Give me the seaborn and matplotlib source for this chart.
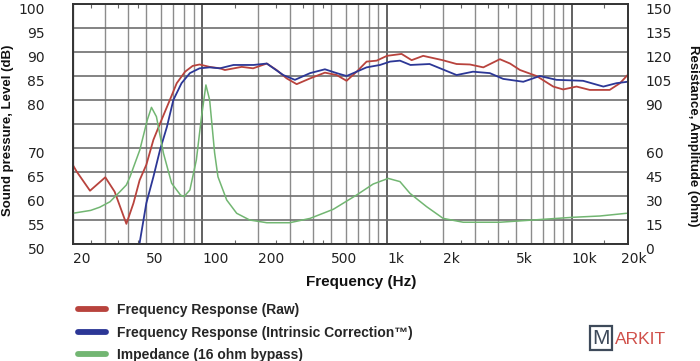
import matplotlib
matplotlib.use("Agg")
import matplotlib.pyplot as plt
import matplotlib.transforms as mtransforms
from matplotlib.lines import Line2D
import numpy as np
import pandas as pd
import seaborn as sns

# frequency response (raw), dB
raw_freq = [20, 21, 24.8, 30, 33.7, 39, 42.6, 46, 50, 54.6, 59.3, 67, 73, 81, 89, 97,
            110, 125, 133, 164, 189, 224, 253, 287, 325, 384, 462, 535, 605, 686, 776,
            880, 1000, 1200, 1360, 1570, 2000, 2380, 2810, 3320, 4080, 4630, 5240, 6440,
            7930, 8970, 10600, 12500, 16000, 18200, 20000]
raw_db = [66.5, 65.1, 61.1, 63.9, 60.9, 54.2, 58.5, 63.3, 66.5, 71.7, 75.1, 80, 83.5, 85.9,
          87.1, 87.4, 86.9, 86.6, 86.25, 86.9, 86.6, 87.6, 86.25, 84.5, 83.3, 84.5, 85.7,
          85.2, 84, 85.9, 88, 88.2, 89.2, 89.6, 88.3, 89.2, 88.3, 87.5, 87.4, 86.8, 88.5,
          87.6, 86.25, 85, 82.8, 82.2, 82.8, 82.1, 82.1, 83.5, 85.2]

# frequency response (intrinsic correction), dB
cor_freq = [45.9, 50, 54.6, 59.3, 64.6, 70, 77.5, 86, 97, 110, 125, 148, 190, 224, 275, 318,
            384, 462, 535, 605, 686, 776, 917, 1040, 1176, 1340, 1700, 2380, 2920, 3600,
            4250, 5460, 6710, 8260, 11500, 14800, 17400, 20000]
cor_db = [50, 58.5, 64, 69.6, 74.4, 80, 83.5, 85.6, 86.6, 86.8, 86.6, 87.3, 87.3, 87.6, 85.2,
          84.2, 85.6, 86.4, 85.6, 85, 85.9, 86.8, 87.3, 88, 88.2, 87.3, 87.5, 85.2, 85.9,
          85.6, 84.4, 83.8, 85, 84.2, 84, 82.8, 83.5, 83.8]

# impedance, ohm
imp_freq = [20, 25, 28, 31.8, 36, 39, 40.8, 46.1, 50.6, 53.3, 56.7, 61.9, 68.5, 76.5, 79.9,
            86, 93.2, 99.4, 105, 110, 117, 122, 136, 154, 181, 224, 298, 384, 513, 685,
            843, 1016, 1176, 1331, 1476, 1640, 2014, 2584, 4080, 6180, 10160, 14170, 19760]
imp_ohm = [19.2, 21, 23, 26.4, 32.7, 36.9, 42, 58.75, 77.5, 85.4, 79.6, 56.7, 38, 30.6, 29.6,
           33.75, 52.5, 79.6, 99.4, 90, 57, 42, 27.5, 19.2, 15, 13.3, 13.3, 16, 21.7, 30.6,
           37.5, 41, 39, 31.7, 27.5, 23.3, 16, 13.6, 13.6, 15, 16.7, 17.5, 19.2]

grid_freqs = [20, 30, 40, 50, 60, 70, 80, 90, 100, 200, 300, 400, 500, 600, 700, 800, 900,
              1000, 2000, 3000, 4000, 5000, 6000, 7000, 8000, 9000, 10000, 20000]
freq_labels = {20: "20", 50: "50", 100: "100", 200: "200", 500: "500", 1000: "1k",
               2000: "2k", 5000: "5k", 10000: "10k", 20000: "20k"}
small_ticks = [25, 35, 45, 150, 250, 350, 450, 1500, 2500, 3500, 4500, 15000]
spl_ticks = [50, 55, 60, 65, 70, 75, 80, 85, 90, 95, 100]
ohm_ticks = [0, 15, 30, 45, 60, 75, 90, 105, 120, 135, 150]

RED = "#b8433d"
BLUE = "#2c3796"
GREEN = "#72b672"

sns.set_theme(style="white")
plt.rcParams["font.family"] = ["DejaVu Sans"]

fig = plt.figure(figsize=(7.0, 3.61), dpi=100)
ax = fig.add_axes([0.1039, 0.3241, 0.7926, 0.6648])
ax2 = ax.twinx()

sns.lineplot(x=raw_freq, y=raw_db, ax=ax, color=RED, lw=1.3, errorbar=None)
sns.lineplot(x=cor_freq, y=cor_db, ax=ax, color=BLUE, lw=1.3, errorbar=None)
sns.lineplot(x=imp_freq, y=imp_ohm, ax=ax2, color=GREEN, lw=1.1, errorbar=None)

ax.set_xscale("log")
ax.set_xlim(20, 20000)
ax.set_ylim(50, 100)
ax2.set_ylim(0, 150)

# grid via ticks
ax.set_xticks(grid_freqs)
ax.set_xticklabels([freq_labels.get(f, "") for f in grid_freqs])
ax.set_xticks(small_ticks, minor=True)
ax.set_xticklabels([], minor=True)
ax.set_yticks(spl_ticks)
ax.set_yticklabels(["" if v == 75 else str(v) for v in spl_ticks])
ax2.set_yticks(ohm_ticks)
ax2.set_yticklabels(["" if v == 75 else str(v) for v in ohm_ticks])

ax.grid(True, which="major", axis="both", color="#8c8c8c", lw=1.0)
for f, gl in zip(grid_freqs, ax.get_xgridlines()):
    if f in (100, 1000, 10000):
        gl.set_color("#555555")
        gl.set_linewidth(1.3)
for gl in ax.get_ygridlines():
    gl.set_color("#6e6e6e")
    gl.set_linewidth(1.2)
ax2.grid(False)

ax.tick_params(axis="x", which="major", length=0, pad=6, labelsize=10, colors="#222222")
ax.tick_params(axis="x", which="minor", direction="in", length=3, width=0.8,
               color="#666666", top=True, bottom=True)
ax.tick_params(axis="y", length=0, pad=20, labelsize=10, colors="#222222")
ax2.tick_params(axis="y", length=0, pad=13, labelsize=10, colors="#222222")

dpi_tr = fig.dpi_scale_trans
for lab in ax.get_xticklabels():
    lab.set_horizontalalignment("left")
    if lab.get_text() == "20k":
        lab.set_transform(lab.get_transform() + mtransforms.ScaledTranslation(-0.07, 0, dpi_tr))
for lab in ax.get_yticklabels() + ax2.get_yticklabels():
    lab.set_transform(lab.get_transform() + mtransforms.ScaledTranslation(0, -0.045, dpi_tr))

for a in (ax, ax2):
    for sp in a.spines.values():
        sp.set_color("#333333")
        sp.set_linewidth(1.2)

lab_font = dict(family="Liberation Sans", weight="bold", size=9.5, color="#111111")
ax.set_ylabel("Sound pressure, Level (dB)", **lab_font)
ax.yaxis.label.set(ha="center", va="center", rotation_mode="default")
ax.yaxis.set_label_coords(-0.117, 0.475)
ax2.set_ylabel("Resistance, Amplitude (ohm)", rotation=-90, **lab_font)
ax2.yaxis.label.set(ha="center", va="center", rotation_mode="default")
ax2.yaxis.set_label_coords(1.118, 0.45)
ax.set_xlabel("Frequency (Hz)", family="Liberation Sans", weight="bold", size=11,
              color="#111111")
ax.xaxis.label.set(va="center")
ax.xaxis.set_label_coords(0.52, -0.157)

handles = [Line2D([], [], color=RED, lw=4.2),
           Line2D([], [], color=BLUE, lw=4.2),
           Line2D([], [], color=GREEN, lw=4.2)]
labels = ["Frequency Response (Raw)",
          "Frequency Response (Intrinsic Correction\u2122)",
          "Impedance (16 ohm bypass)"]
fig.legend(handles, labels, loc="upper left", bbox_to_anchor=(0.112, 0.16),
           frameon=False, handlelength=2.0, handletextpad=0.75, labelspacing=0.6,
           borderpad=0, borderaxespad=0,
           prop=dict(family="Liberation Sans", weight="bold", size=10))

# logo
fig.text(601 / 700, 1 - 338 / 361, "M", ha="center", va="center", color="#3e4a5a",
         family="Liberation Sans", size=15,
         bbox=dict(boxstyle="square,pad=0.12", fc="white", ec="#3e4a5a", lw=1.6))
fig.text(615 / 700, 1 - 339 / 361, "ARKIT", ha="left", va="center", color="#d0504a",
         family="Liberation Sans", size=12.5)

fig.savefig("out.png", dpi=100)
